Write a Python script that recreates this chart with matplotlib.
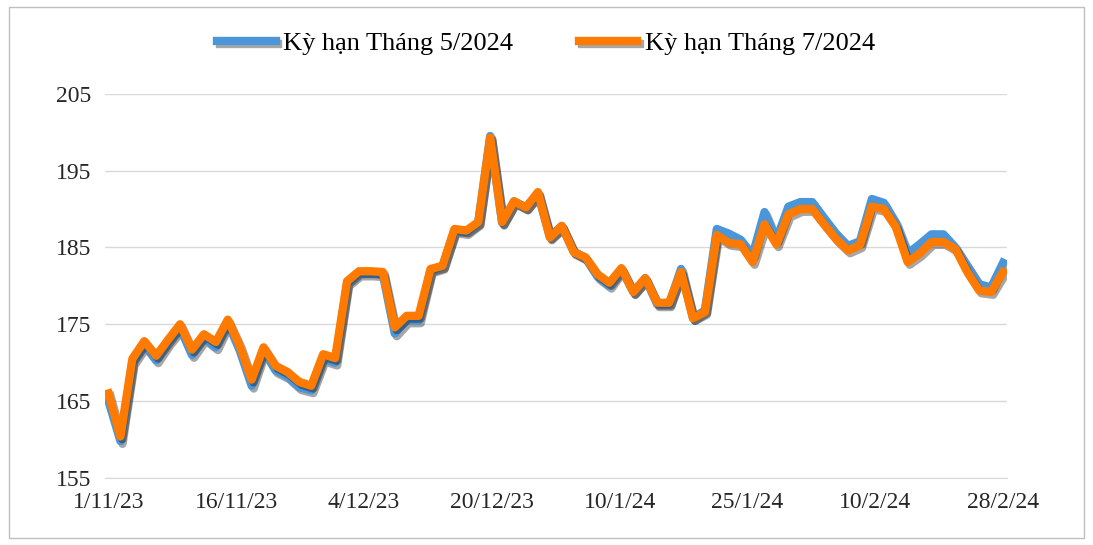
import matplotlib.pyplot as plt
import matplotlib.patheffects as pe
import numpy as np

# Giá cà phê (giá trị)
ky_han_7 = [166.0, 160.4, 170.5, 172.8, 170.9, 173.0, 175.0, 171.7, 173.7, 172.7,
            175.6, 172.2, 167.8, 172.0, 169.6, 168.8, 167.5, 167.0, 171.1, 170.6,
            180.6, 181.9, 181.9, 181.8, 174.6, 176.1, 176.1, 182.2, 182.6, 187.4,
            187.2, 188.3, 199.3, 188.3, 191.0, 190.2, 192.2, 186.3, 187.8, 184.4,
            183.7, 181.5, 180.4, 182.3, 179.2, 181.0, 177.8, 177.8, 181.8, 175.8,
            176.6, 186.6, 185.6, 185.4, 183.1, 188.0, 185.4, 189.3, 190.0, 190.0,
            188.0, 186.1, 184.6, 185.3, 190.3, 190.0, 187.7, 183.1, 184.2, 185.7,
            185.7, 184.8, 181.8, 179.4, 179.2, 181.8]
ky_han_5 = [165.0, 159.8, 170.0, 172.3, 170.3, 172.6, 174.5, 171.0, 173.2, 172.0,
            175.2, 171.6, 167.0, 171.6, 169.0, 168.2, 166.8, 166.4, 170.5, 170.0,
            180.3, 181.6, 181.6, 181.5, 173.8, 175.5, 175.5, 182.0, 182.5, 187.2,
            187.0, 188.2, 199.5, 188.2, 191.0, 190.2, 192.0, 186.4, 187.8, 184.5,
            183.6, 181.2, 180.0, 182.2, 179.2, 181.0, 177.6, 177.6, 182.2, 175.8,
            176.8, 187.4, 186.8, 186.0, 184.0, 189.6, 186.0, 190.3, 190.9, 190.9,
            188.8, 186.8, 185.2, 185.8, 191.3, 190.8, 188.2, 184.2, 185.4, 186.7,
            186.7, 185.0, 182.6, 180.2, 179.8, 183.0]
tick_labels = ['1/11/23', '16/11/23', '4/12/23', '20/12/23', '10/1/24',
               '25/1/24', '10/2/24', '28/2/24']

x = np.arange(len(ky_han_7))
serif = ['Liberation Serif', 'DejaVu Serif']

fig = plt.figure(figsize=(10.93, 5.45), dpi=100)
ax = fig.add_axes([0.096, 0.123, 0.825, 0.705])
shadow = [pe.SimpleLineShadow(offset=(1.5, -2), alpha=0.35, shadow_color='black'), pe.Normal()]
ax.plot(x, ky_han_5, color='#4a96d8', lw=6, solid_joinstyle='round',
        label='Kỳ hạn Tháng 5/2024', path_effects=shadow)
ax.plot(x, ky_han_7, color='#ff7a00', lw=6, solid_joinstyle='round',
        label='Kỳ hạn Tháng 7/2024', path_effects=shadow)

ax.set_ylim(155, 205)
ax.set_yticks(range(155, 206, 10))
ax.set_xlim(-0.3, len(x) - 0.7)
ax.set_xticks(np.linspace(0, len(x) - 1, len(tick_labels)))
ax.set_xticklabels(tick_labels)
ax.grid(axis='y', color='#d9d9d9', lw=1)
ax.set_axisbelow(True)
for s in ['left', 'right', 'top']:
    ax.spines[s].set_visible(False)
ax.spines['bottom'].set_color('#d9d9d9')
ax.tick_params(length=0, labelsize=17, pad=10)
for t in ax.get_xticklabels() + ax.get_yticklabels():
    t.set_family(serif)
    t.set_color('#262626')

leg = fig.legend(loc='upper center', bbox_to_anchor=(0.5, 0.985), ncol=2, frameon=False,
                 prop={'family': serif, 'size': 19}, handlelength=2.2, columnspacing=2.5,
                 handletextpad=0.3)
for line in leg.get_lines():
    line.set_linewidth(6)

fig.patches.append(plt.Rectangle((0.008, 0.012), 0.984, 0.976, transform=fig.transFigure,
                                 fill=False, edgecolor='#bfbfbf', lw=1))
fig.savefig('out.png')
